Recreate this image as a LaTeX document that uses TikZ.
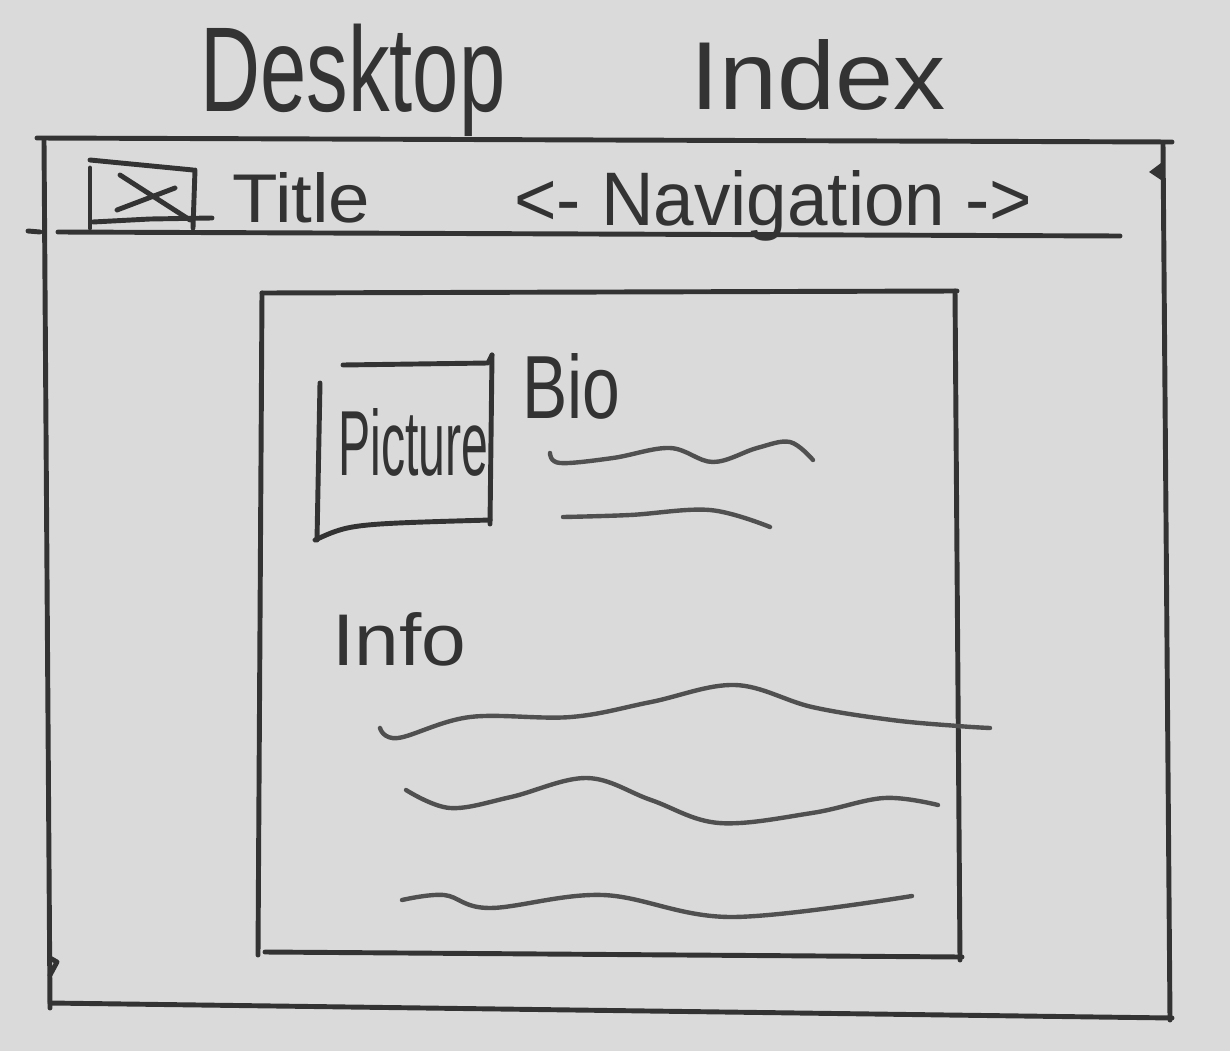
\documentclass[tikz,border=0pt]{standalone}
\usepackage{fontspec}
\setmainfont{Liberation Sans}
\definecolor{paper}{HTML}{DADADA}
\definecolor{pencil}{HTML}{333333}
\definecolor{penlight}{HTML}{505050}
% word set to a given width and height (above the baseline)
\newcommand{\handword}[3]{\resizebox{#1}{#2}{#3}}
\begin{document}
\begin{tikzpicture}[x=0.02cm,y=-0.02cm,
  stroke/.style={draw=pencil,line width=2.8pt,line cap=round,line join=round},
  wave/.style={draw=penlight,line width=2.5pt,line cap=round,line join=round},
  word/.style={inner sep=0pt,anchor=base west,text=pencil}]
\fill[paper] (0,0) rectangle (1230,1051);
\useasboundingbox (0,0) rectangle (1230,1051);

% heading
\node[word] (desktop) at (200,112) {\handword{6.1cm}{1.75cm}{Desktop}};
\node[word] (index) at (690,110) {\handword{5.1cm}{1.4cm}{Index}};

% browser window
\draw[stroke] (37,138) -- (1172,142);
\draw[stroke] (44,140) -- (50,1008);
\draw[stroke] (1163,144) -- (1170,1020);
\draw[stroke] (50,1003) -- (1172,1018);
\fill[pencil] (1149,172) -- (1161,163) -- (1161,180) -- cycle;
\draw[stroke] (50,958) -- (57,962) -- (50,975);

% header bar
\draw[stroke] (28,231) -- (40,232);
\draw[stroke] (58,232) -- (1120,236);

% logo icon
\draw[stroke] (90,160) -- (193,170);
\draw[stroke] (90,168) -- (90,228);
\draw[stroke] (195,170) -- (193,228);
\draw[stroke] (93,222) -- (150,219) -- (212,218);
\draw[stroke] (120,175) -- (190,220);
\draw[stroke] (117,210) -- (175,188);

\node[word] (title) at (232,222) {\handword{2.76cm}{1.0cm}{Title}};
\node[word] (nav) at (514,225) {\handword{10.36cm}{1.1cm}{<- Navigation ->}};

% content panel
\draw[stroke] (262,293) -- (957,291);
\draw[stroke] (262,293) -- (258,955);
\draw[stroke] (265,952) -- (962,957);
\draw[stroke] (955,291) -- (960,960);

% picture box
\draw[stroke] (343,365) -- (488,363) -- (492,355);
\draw[stroke] (492,355) -- (490,524);
\draw[stroke] (320,383) -- (317,540);
\draw[stroke] (315,540) .. controls (350,524) .. (490,520);
\node[word] (picture) at (338,475) {\handword{3.0cm}{1.34cm}{Picture}};

% bio
\node[word] (bio) at (522,418) {\handword{1.96cm}{1.3cm}{Bio}};
\draw[wave] plot[smooth,tension=0.6] coordinates {(550,453) (560,463) (613,458) (670,448) (713,462) (757,448) (790,442) (813,460)};
\draw[wave] plot[smooth,tension=0.6] coordinates {(563,517) (630,515) (710,510) (770,527)};

% info
\node[word] (info) at (332,665) {\handword{2.68cm}{1.06cm}{Info}};
\draw[wave] plot[smooth,tension=0.6] coordinates {(380,728) (398,738) (470,717) (571,717) (651,702) (735,685) (812,707) (892,720) (958,726) (990,728)};
\draw[wave] plot[smooth,tension=0.6] coordinates {(406,790) (450,808) (511,797) (587,778) (651,800) (719,823) (812,813) (884,798) (938,805)};
\draw[wave] plot[smooth,tension=0.6] coordinates {(402,900) (444,895) (490,908) (603,895) (731,917) (912,896)};
\end{tikzpicture}
\end{document}
